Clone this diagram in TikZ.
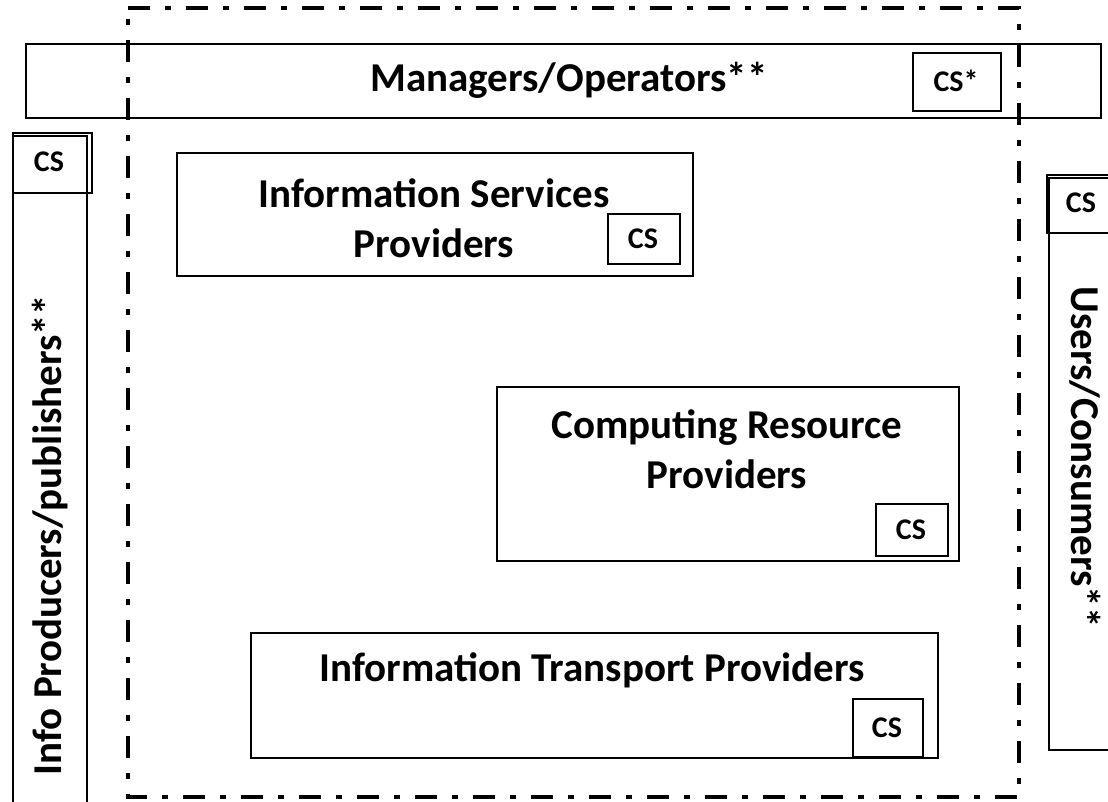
\documentclass[tikz,border=0pt]{standalone}
\usepackage{fontspec}
\setmainfont{Carlito}
\begin{document}
\begin{tikzpicture}[x=1pt,y=-1pt,
  box/.style={draw, line width=2pt, inner sep=0pt, anchor=north west, fill=white},
  big/.style={font=\bfseries\fontsize{41}{50}\selectfont, inner sep=0pt, align=center},
  cs/.style={font=\bfseries\fontsize{30}{32}\selectfont, inner sep=0pt},
  ddot/.style={line width=4.5pt, dash pattern=on 22pt off 15pt on 6pt off 15pt}]
\useasboundingbox (0,0) rectangle (1108,801);
\clip (0,0) rectangle (1108,801);
\fill[white] (0,0) rectangle (1108,801);
% managers
\node[box, minimum width=1075pt, minimum height=74pt] (mgr) at (25,43) {};
\node[box, minimum width=88pt, minimum height=58pt] (mgrcs) at (912,52) {};
\node[cs] (mgrcst) at (956,81) {CS*};
\node[big] (mgrt) at (569,80) {Managers/Operators**};
% left producers
\node[box, minimum width=74pt, minimum height=670pt] (prod) at (12,135) {};
\node[draw, line width=1.5pt, inner sep=0pt, anchor=north west, minimum width=79pt, minimum height=60pt] (prodcs) at (12,132) {};
\node[cs] (prodcst) at (49,162) {CS};
\node[big, rotate=90] (prodt) at (50,535) {Info Producers/publishers**};
% right users
\node[box, minimum width=80pt, minimum height=572pt] (user) at (1048,177) {};
\node[draw, line width=1.5pt, inner sep=0pt, anchor=north west, minimum width=80pt, minimum height=58pt] (usercs) at (1046,174) {};
\node[cs] (usercst) at (1081,203) {CS};
\node[big, rotate=-90] (usert) at (1085,457) {Users/Consumers**};
% info services
\node[box, minimum width=516pt, minimum height=123pt] (isp) at (176,152) {};
\node[box, minimum width=72pt, minimum height=50pt] (ispcs) at (607,213) {};
\node[cs] (ispcst) at (643,239) {CS};
\node[big] (ispt) at (434,218) {Information Services\\Providers};
% computing
\node[box, minimum width=462pt, minimum height=174pt] (crp) at (496,386) {};
\node[box, minimum width=72pt, minimum height=52pt] (crpcs) at (875,503) {};
\node[cs] (crpcst) at (911,530) {CS};
\node[big] (crpt) at (727,449) {Computing Resource\\Providers};
% transport
\node[box, minimum width=687pt, minimum height=125pt] (itp) at (250,632) {};
\node[box, minimum width=70pt, minimum height=58pt] (itpcs) at (852,698) {};
\node[cs] (itpcst) at (887,728) {CS};
\node[big] (itpt) at (592,670) {Information Transport Providers};
% dash-dot domain
\coordinate (d1) at (128,8);
\coordinate (d2) at (1019,8);
\coordinate (d3) at (1019,797);
\coordinate (d4) at (128,797);
\draw[ddot] (d1) -- (d2) -- (d3) -- (d4) -- cycle;
\end{tikzpicture}
\end{document}
